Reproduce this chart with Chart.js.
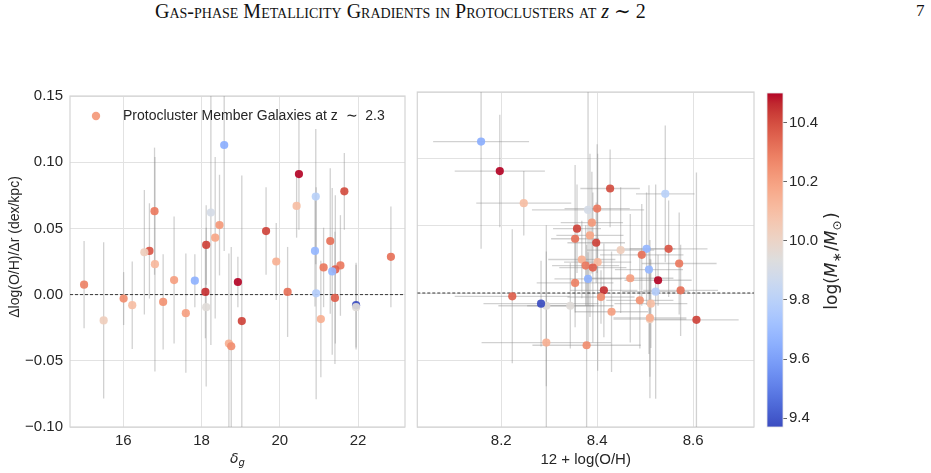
<!DOCTYPE html>
<html><head><meta charset="utf-8">
<script src="https://cdn.jsdelivr.net/npm/chart.js@4.4.0/dist/chart.umd.min.js"></script>
<style>
html,body{margin:0;padding:0;background:#fff;width:931px;height:473px;overflow:hidden;position:relative;}
canvas{position:absolute;}
#hdr{position:absolute;left:155px;top:-1px;font-family:"Liberation Serif","DejaVu Serif",serif;font-size:20px;font-variant:small-caps;color:#111;white-space:nowrap;}
#pg{position:absolute;left:916px;top:1px;font-family:"Liberation Serif","DejaVu Serif",serif;font-size:17px;color:#111;}
</style></head><body>
<div id="hdr">Gas-phase Metallicity Gradients in Protoclusters at <i style="font-variant:normal">z</i> ∼ 2</div>
<div id="pg">7</div>
<canvas id="c1" width="410" height="393" style="left:0;top:80px"></canvas>
<canvas id="c2" width="350" height="393" style="left:410px;top:80px"></canvas>
<canvas id="c3" width="171" height="393" style="left:760px;top:80px"></canvas>
<script>
// ---------------- data ----------------
const deltaG = [18.58,20.49,21.65,20.92,20.43,16.80,18.24,18.46,19.65,18.35,21.29,18.12,20.90,16.67,16.54,19.91,16.81,22.84,21.12,21.55,21.42,21.34,15.00,17.30,17.83,18.93,18.10,20.20,20.93,16.01,21.41,16.23,17.02,18.12,21.95,21.95,15.50,17.60,19.03,21.05,18.70,18.76];
const gradient = [0.113,0.091,0.078,0.074,0.067,0.063,0.062,0.0525,0.048,0.043,0.0405,0.0375,0.033,0.033,0.032,0.025,0.023,0.0285,0.0205,0.022,0.019,0.0175,0.0075,0.011,0.0105,0.0095,0.002,0.002,0.001,-0.003,-0.0025,-0.008,-0.0055,-0.0095,-0.008,-0.0095,-0.0195,-0.014,-0.020,-0.0185,-0.037,-0.039];
const gradientErr = [0.080,0.042,0.029,0.051,0.024,0.048,0.100,0.038,0.033,0.061,0.055,0.030,0.042,0.036,0.047,0.029,0.081,0.038,0.030,0.038,0.056,0.063,0.033,0.048,0.020,0.019,0.035,0.034,0.080,0.020,0.050,0.033,0.036,0.060,0.032,0.032,0.059,0.045,0.110,0.044,0.068,0.075];
const metallicity = [8.158,8.197,8.427,8.542,8.247,8.400,8.381,8.389,8.358,8.385,8.354,8.398,8.503,8.549,8.449,8.368,8.401,8.493,8.376,8.571,8.391,8.508,8.354,8.469,8.381,8.527,8.414,8.574,8.522,8.408,8.223,8.512,8.489,8.294,8.283,8.344,8.510,8.430,8.607,8.510,8.294,8.378];
const metallicityErr = [0.100,0.094,0.062,0.061,0.099,0.068,0.117,0.065,0.050,0.070,0.050,0.060,0.060,0.081,0.070,0.070,0.070,0.087,0.070,0.078,0.070,0.071,0.080,0.090,0.070,0.070,0.070,0.078,0.070,0.070,0.120,0.076,0.070,0.100,0.120,0.090,0.076,0.076,0.088,0.076,0.135,0.113];
const logMass = [9.65,10.50,10.40,9.80,10.10,10.30,9.90,10.22,10.42,10.18,10.32,10.42,9.68,10.38,10.03,10.15,10.12,10.32,10.30,10.30,10.36,9.68,10.28,10.20,9.66,10.50,10.45,10.32,9.78,10.25,10.36,10.10,10.24,9.95,9.37,9.95,10.03,10.20,10.42,10.15,10.15,10.25];

const deltaTicks = [16,18,20,22];
const deltaTickLabels = ['16','18','20','22'];
const gradTicks = [-0.10,-0.05,0,0.05,0.10,0.15];
const gradTickLabels = ['\u22120.10','\u22120.05','0.00','0.05','0.10','0.15'];
const ohTicks = [8.2,8.4,8.6];
const ohTickLabels = ['8.2','8.4','8.6'];
const massTicks = [9.4,9.6,9.8,10.0,10.2,10.4];
const massTickLabels = ['9.4','9.6','9.8','10.0','10.2','10.4'];
const massRange = [9.37,10.5];
const deltaRange = [14.64,23.2];
const ohRange = [8.025,8.727];
const gradRange = [-0.10,0.15];
const legendLabel = 'Protocluster Member Galaxies at z  \u223C  2.3';

// ---------------- style ----------------
const FONT = "'Liberation Sans', Arial, sans-serif";
const TXT = '#262626';
const GRID = '#e2e2e2';
const FRAME = '#d4d4d4';
const ERR = 'rgba(140,140,140,0.40)';
Chart.defaults.font.family = FONT;
Chart.defaults.color = TXT;

const coolwarm = [[59,76,192],[68,90,204],[77,104,215],[87,117,225],[98,130,234],[108,142,241],[119,154,247],[130,165,251],[141,176,254],[152,185,255],[163,194,255],[174,201,253],[184,208,249],[194,213,244],[204,217,238],[213,219,230],[221,221,221],[229,216,209],[236,211,197],[241,204,185],[245,196,173],[247,187,160],[247,177,148],[247,166,135],[244,154,123],[241,141,111],[236,127,99],[229,112,88],[222,96,77],[213,80,66],[203,62,56],[192,40,47],[180,4,38]];
function cmap(t){
  t=Math.max(0,Math.min(1,t));
  const f=t*(coolwarm.length-1), i=Math.min(Math.floor(f),coolwarm.length-2), r=f-i;
  return coolwarm[i].map((c,k)=>Math.round(c+(coolwarm[i+1][k]-c)*r));
}
function massColor(m,a){const c=cmap((m-massRange[0])/(massRange[1]-massRange[0]));return `rgba(${c[0]},${c[1]},${c[2]},${a})`;}
const pointColors = logMass.map(m=>massColor(m,0.92));

// ---------------- plugins ----------------
function errPlugin(xArr,xErr,yArr,yErr){
  return {id:'err',beforeDatasetsDraw(chart){
    const {ctx,chartArea:a,scales:{x,y}}=chart;
    ctx.save();
    ctx.beginPath();ctx.rect(a.left,a.top,a.right-a.left,a.bottom-a.top);ctx.clip();
    ctx.strokeStyle=ERR;ctx.lineWidth=1.3;
    for(let i=0;i<yArr.length;i++){
      const px=x.getPixelForValue(xArr[i]), py=y.getPixelForValue(yArr[i]);
      ctx.beginPath();
      ctx.moveTo(px,y.getPixelForValue(yArr[i]-yErr[i]));
      ctx.lineTo(px,y.getPixelForValue(yArr[i]+yErr[i]));
      if(xErr){
        ctx.moveTo(x.getPixelForValue(xArr[i]-xErr[i]),py);
        ctx.lineTo(x.getPixelForValue(xArr[i]+xErr[i]),py);
      }
      ctx.stroke();
    }
    const y0=y.getPixelForValue(0);
    ctx.strokeStyle='#222';ctx.lineWidth=0.9;ctx.setLineDash([3,2]);
    ctx.beginPath();ctx.moveTo(a.left,y0);ctx.lineTo(a.right,y0);ctx.stroke();
    ctx.restore();
  }};
}
const framePlugin={id:'frame',beforeDatasetsDraw(chart){
  const {ctx,chartArea:a}=chart;
  ctx.save();ctx.strokeStyle=FRAME;ctx.lineWidth=1.2;
  ctx.strokeRect(a.left,a.top,a.right-a.left,a.bottom-a.top);ctx.restore();
}};
const leftLabels={id:'leftLabels',afterDraw(chart){
  const {ctx,chartArea:a}=chart;
  ctx.save();ctx.fillStyle=TXT;
  ctx.translate(15,167);ctx.rotate(-Math.PI/2);
  ctx.font="14px "+FONT;ctx.textAlign='center';ctx.textBaseline='middle';
  ctx.fillText('\u0394log(O/H)/\u0394r (dex/kpc)',0,0);
  ctx.restore();
  ctx.save();ctx.fillStyle=TXT;
  const cx=(a.left+a.right)/2;
  ctx.font="italic 14px 'DejaVu Sans'";const w1=ctx.measureText('\u03B4').width;
  ctx.font="italic 10px 'DejaVu Sans'";const w2=ctx.measureText('g').width;
  const x0=cx-(w1+w2)/2, by=383;
  ctx.textBaseline='alphabetic';
  ctx.font="italic 14px 'DejaVu Sans'";ctx.fillText('\u03B4',x0,by);
  ctx.font="italic 10px 'DejaVu Sans'";ctx.fillText('g',x0+w1,by+3);
  ctx.beginPath();ctx.arc(a.left+26,a.top+20,4.2,0,Math.PI*2);
  ctx.fillStyle=massColor(10.22,0.92);ctx.fill();
  ctx.fillStyle=TXT;ctx.font="14px "+FONT;ctx.textBaseline='middle';ctx.textAlign='left';
  ctx.fillText(legendLabel,a.left+53,a.top+20);
  ctx.restore();
}};
const cbarPlugin={id:'cbar',beforeDatasetsDraw(chart){
  const {ctx,chartArea:a}=chart;
  const g=ctx.createLinearGradient(0,a.bottom,0,a.top);
  coolwarm.forEach((c,i)=>g.addColorStop(i/(coolwarm.length-1),`rgb(${c[0]},${c[1]},${c[2]})`));
  ctx.save();ctx.fillStyle=g;ctx.fillRect(a.left,a.top,a.right-a.left,a.bottom-a.top);
  ctx.strokeStyle='#e6e6e6';ctx.lineWidth=0.8;ctx.strokeRect(a.left,a.top,a.right-a.left,a.bottom-a.top);
  ctx.restore();
},afterDraw(chart){
  const {ctx}=chart;
  const parts=[['log(',"17px 'DejaVu Sans'",0],['M',"italic 17px 'DejaVu Sans'",0],['\u2217',"12px 'DejaVu Sans'",4],['/',"17px 'DejaVu Sans'",0],['M',"italic 17px 'DejaVu Sans'",0],['\u2299',"12px 'DejaVu Sans'",4],[')',"17px 'DejaVu Sans'",0]];
  ctx.save();
  let tot=0;const ws=parts.map(p=>{ctx.font=p[1];const w=ctx.measureText(p[0]).width+(p[2]?1.5:0);tot+=w;return w;});
  ctx.translate(71,181);ctx.rotate(-Math.PI/2);
  ctx.fillStyle=TXT;ctx.textBaseline='alphabetic';
  let x=-tot/2;
  parts.forEach((p,i)=>{ctx.font=p[1];ctx.fillText(p[0],x,6+p[2]);x+=ws[i];});
  ctx.restore();
}};

function tickSetter(vals){return s=>{s.ticks=vals.map(v=>({value:v}));};}

// ---------------- left chart ----------------
new Chart(document.getElementById('c1'),{
  type:'scatter',
  data:{datasets:[{data:deltaG.map((v,i)=>({x:v,y:gradient[i]})),pointBackgroundColor:pointColors,pointBorderWidth:0,pointRadius:4.1,pointHoverRadius:4.1}]},
  options:{responsive:false,animation:false,events:[],
    layout:{padding:{left:0,right:5,top:12,bottom:0}},
    plugins:{legend:{display:false},tooltip:{enabled:false}},
    scales:{
      x:{type:'linear',min:deltaRange[0],max:deltaRange[1],afterBuildTicks:tickSetter(deltaTicks),afterFit:s=>{s.height=46;},
        grid:{color:GRID,drawTicks:false},border:{display:false},
        ticks:{font:{size:15},color:TXT,padding:5,maxRotation:0,callback:(v,i)=>deltaTickLabels[i]}},
      y:{type:'linear',min:gradRange[0],max:gradRange[1],afterBuildTicks:tickSetter(gradTicks),afterFit:s=>{s.width=70;},
        grid:{color:GRID,drawTicks:false},border:{display:false},
        ticks:{font:{size:15},color:TXT,padding:7,callback:(v,i)=>gradTickLabels[i]}}
    }},
  plugins:[framePlugin,errPlugin(deltaG,null,gradient,gradientErr),leftLabels]
});

// ---------------- right chart ----------------
new Chart(document.getElementById('c2'),{
  type:'scatter',
  data:{datasets:[{data:metallicity.map((v,i)=>({x:v,y:gradient[i]})),pointBackgroundColor:pointColors,pointBorderWidth:0,pointRadius:4.1,pointHoverRadius:4.1}]},
  options:{responsive:false,animation:false,events:[],
    layout:{padding:{left:7.3,right:6,top:12,bottom:0}},
    plugins:{legend:{display:false},tooltip:{enabled:false}},
    scales:{
      x:{type:'linear',min:ohRange[0],max:ohRange[1],afterBuildTicks:tickSetter(ohTicks),afterFit:s=>{s.height=46;},
        grid:{color:GRID,drawTicks:false},border:{display:false},
        ticks:{font:{size:15},color:TXT,padding:5,maxRotation:0,callback:(v,i)=>ohTickLabels[i]},
        title:{display:true,text:'12 + log(O/H)',font:{size:15},color:TXT,padding:{top:0,bottom:4}}},
      y:{type:'linear',min:gradRange[0],max:gradRange[1],afterBuildTicks:tickSetter(gradTicks),afterFit:s=>{s.width=0;},
        grid:{color:GRID,drawTicks:false},border:{display:false},
        ticks:{display:false}}
    }},
  plugins:[framePlugin,errPlugin(metallicity,metallicityErr,gradient,gradientErr)]
});

// ---------------- colorbar ----------------
new Chart(document.getElementById('c3'),{
  type:'scatter',
  data:{datasets:[{data:[]}]},
  options:{responsive:false,animation:false,events:[],
    layout:{padding:{left:7,right:0,top:13,bottom:46}},
    plugins:{legend:{display:false},tooltip:{enabled:false}},
    scales:{
      x:{type:'linear',display:false,min:0,max:1},
      y:{type:'linear',position:'right',min:massRange[0],max:massRange[1],afterBuildTicks:tickSetter(massTicks),afterFit:s=>{s.width=148;},
        grid:{drawOnChartArea:false,drawTicks:true,tickLength:4,color:'#666',lineWidth:1},border:{display:false},
        ticks:{font:{size:15},color:TXT,padding:2,callback:(v,i)=>massTickLabels[i]}}
    }},
  plugins:[cbarPlugin]
});
</script>
</body></html>
